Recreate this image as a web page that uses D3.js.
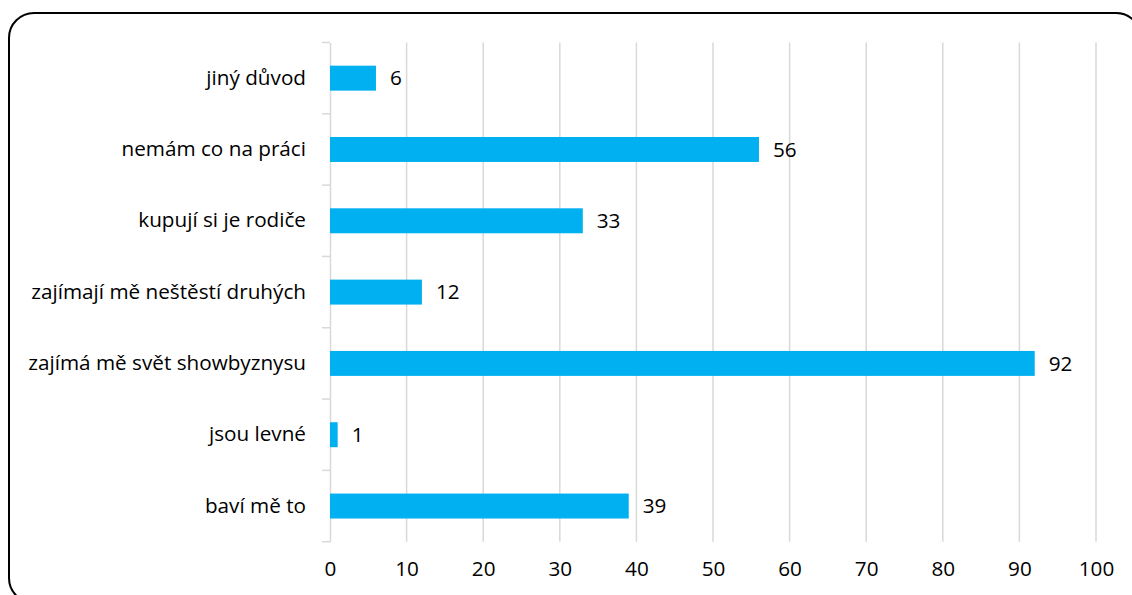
<!DOCTYPE html>
<html><head><meta charset="utf-8">
<script src="https://cdn.jsdelivr.net/npm/d3@7"></script>
<style>body{margin:0;background:#fff}svg{display:block}text{font-family:"Open Sans",sans-serif;fill:#000}</style>
</head><body>
<svg id="c" width="1132" height="595"></svg>
<script>
const categories = ["jiný důvod","nemám co na práci","kupují si je rodiče","zajímají mě neštěstí druhých","zajímá mě svět showbyznysu","jsou levné","baví mě to"];
const values = [6,56,33,12,92,1,39];
const xTicks = [0,10,20,30,40,50,60,70,80,90,100];

const svg = d3.select("#c");
svg.append("rect").attr("x",9).attr("y",13).attr("width",1132).attr("height",590)
  .attr("rx",25).attr("ry",25).attr("fill","none").attr("stroke","#000").attr("stroke-width",2);

const x = d3.scaleLinear().domain([0,100]).range([330,1096]);
const y = d3.scaleBand().domain(categories).range([42.5,541.7]).padding(0);
const fs = 20.7;

// gridlines
svg.append("g").selectAll("line").data(xTicks.slice(1)).join("line")
  .attr("x1",d=>x(d)).attr("x2",d=>x(d)).attr("y1",42.5).attr("y2",541.7)
  .attr("stroke","#d9d9d9").attr("stroke-width",1.5);

// left axis
const yAxis = svg.append("g").attr("transform","translate(330,0)")
  .call(d3.axisLeft(y).tickSize(0).tickPadding(24));
yAxis.select(".domain").attr("stroke","#d9d9d9").attr("stroke-width",1.5);
yAxis.selectAll("text").style("font-size",fs+"px").attr("font-family",null);
// boundary ticks
const bounds = categories.map(c=>y(c)).concat([y(categories[categories.length-1])+y.bandwidth()]);
svg.append("g").selectAll("line").data(bounds).join("line")
  .attr("x1",322).attr("x2",330).attr("y1",d=>d).attr("y2",d=>d)
  .attr("stroke","#d9d9d9").attr("stroke-width",1.5);

// bottom tick labels
const xAxis = svg.append("g").attr("transform","translate(0,541.7)")
  .call(d3.axisBottom(x).tickValues(xTicks).tickSize(0).tickPadding(20));
xAxis.select(".domain").remove();
xAxis.selectAll("text").style("font-size",fs+"px").attr("font-family",null);

// bars
const bh = y.bandwidth()*0.35;
svg.append("g").selectAll("rect").data(values).join("rect")
  .attr("x",x(0)).attr("y",(d,i)=>y(categories[i])+y.bandwidth()/2-bh/2)
  .attr("width",d=>x(d)-x(0)).attr("height",bh).attr("fill","#00B0F0");

// value labels
svg.append("g").selectAll("text").data(values).join("text")
  .attr("x",d=>x(d)+14).attr("y",(d,i)=>y(categories[i])+y.bandwidth()/2)
  .attr("dy","0.35em").style("font-size",fs+"px").text(d=>d);
</script>
</body></html>
